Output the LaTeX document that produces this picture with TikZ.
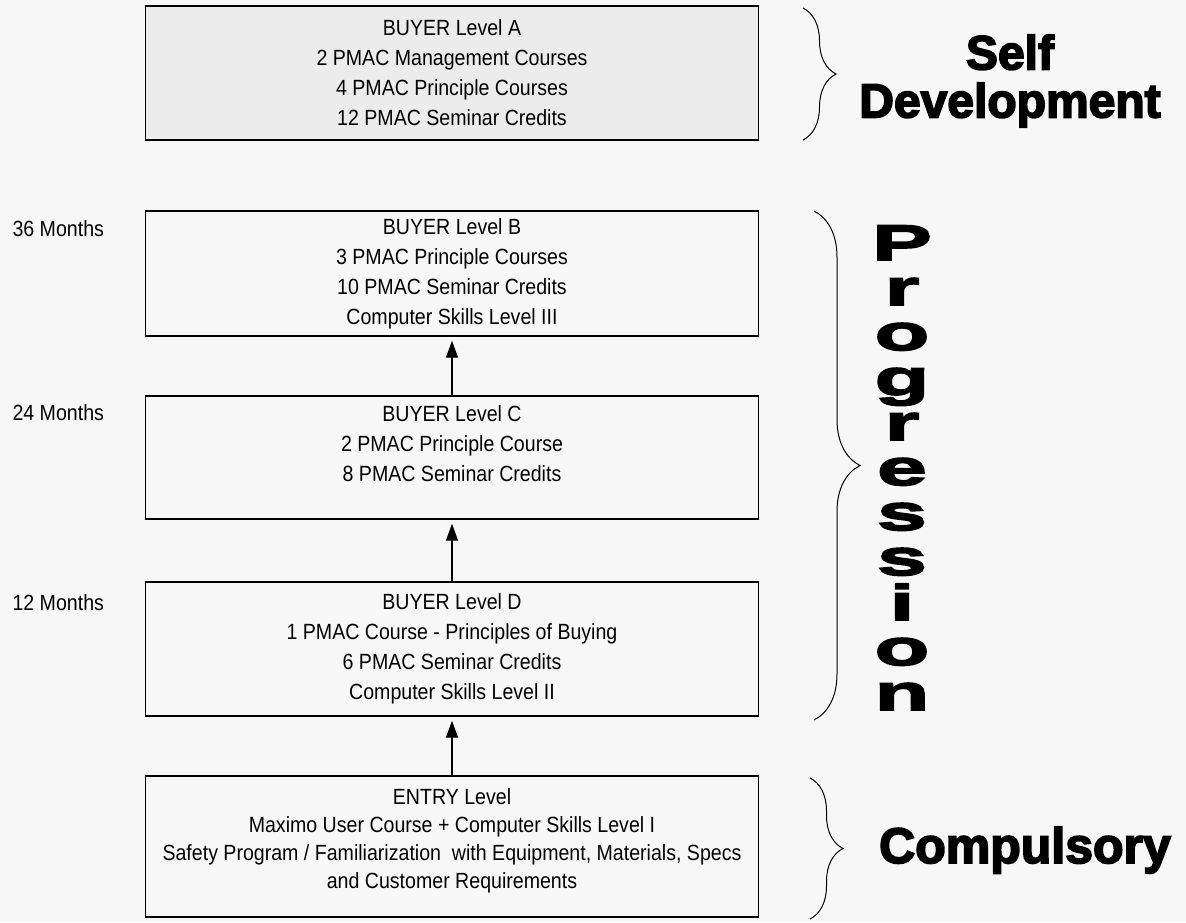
\documentclass[tikz,border=0pt]{standalone}
\usepackage{fontspec}
\setmainfont{Liberation Sans}
\newfontfamily\boxfont{Liberation Sans}[FakeStretch=0.89]
\newfontfamily\heavyfont{Liberation Sans Bold}[FakeBold=3.5]
\newfontfamily\progfont{Liberation Sans Bold}[FakeStretch=1.8, FakeBold=3.5]
\usetikzlibrary{positioning, arrows.meta, decorations.pathreplacing}
\definecolor{scan_bg}{RGB}{247,247,247}
\definecolor{stipple_gray}{RGB}{236,236,236}

\begin{document}
\begin{tikzpicture}[x=1pt, y=-1pt,
    levelbox/.style={draw, line width=1.4pt, minimum width=613pt, inner sep=0pt,
      align=center, font=\boxfont\fontsize{22}{30}\selectfont},
    monthlabel/.style={anchor=base west, font=\boxfont\fontsize{22}{26}\selectfont},
    uparrow/.style={line width=1.3pt, -{Triangle[length=17pt, width=12pt]}, shorten >=4pt},
    groupbrace/.style={line width=1pt, decorate, decoration={brace, amplitude=#1}},
    grouplabel/.style={font=\heavyfont\fontsize{48}{48}\selectfont, align=center},
    progletter/.style={anchor=base, inner sep=0pt, font=\progfont\fontsize{50}{50}\selectfont}]

      % 0. Fondo escaneado
      \fill[scan_bg] (0,0) rectangle (1186,922);
      \useasboundingbox (0,0) rectangle (1186,922);

      % 1. CAJAS DE NIVEL (de arriba abajo)
      \node[levelbox, fill=stipple_gray, minimum height=134pt] (lvlA) at (452,73) {
        BUYER Level A\\ 2 PMAC Management Courses\\ 4 PMAC Principle Courses\\ 12 PMAC Seminar Credits};

      \node[levelbox, minimum height=125pt] (lvlB) at (452,273.5) {
        BUYER Level B\\ 3 PMAC Principle Courses\\ 10 PMAC Seminar Credits\\ Computer Skills Level III};

      \node[levelbox, minimum height=123pt] (lvlC) at (452,457.5) {
        BUYER Level C\\ 2 PMAC Principle Course\\ 8 PMAC Seminar Credits\\[-2pt]};

      \node[levelbox, minimum height=134pt] (lvlD) at (452,649) {
        BUYER Level D\\ 1 PMAC Course - Principles of Buying\\ 6 PMAC Seminar Credits\\ Computer Skills Level II};

      \node[levelbox, minimum height=141pt, font=\boxfont\fontsize{22}{28}\selectfont] (entry) at (452,846.5) {
        ENTRY Level\\ Maximo User Course + Computer Skills Level I\\
        Safety Program / Familiarization\ \ with Equipment, Materials, Specs\\ and Customer Requirements\\[-12pt]};

      % 2. Flechas de progresion
      \draw[uparrow] (entry.north) -- (lvlD.south);
      \draw[uparrow] (lvlD.north) -- (lvlC.south);
      \draw[uparrow] (lvlC.north) -- (lvlB.south);

      % 3. Meses (izquierda)
      \node[monthlabel] (m36) at (9,236) {36 Months};
      \node[monthlabel] (m24) at (9,420) {24 Months};
      \node[monthlabel] (m12) at (9,610) {12 Months};

      % 4. LLAVES Y GRUPOS (derecha)
      \draw[groupbrace=33pt] (803,8) -- (803,140);
      \node[grouplabel] (selfdev) at (1010,81) {Self\\ Development};

      \draw[groupbrace=46pt] (814,211) -- (814,720);
      \foreach \ch [count=\i from 0] in {P,r,o,g,r,e,s,s,i,o,n}
        \node[progletter] (prog\i) at (902,260+45*\i) {\ch};

      \draw[groupbrace=33pt] (810,778) -- (810,919);
      \node[grouplabel, anchor=base, font=\heavyfont\fontsize{50}{50}\selectfont] (compulsory) at (1025,863) {Compulsory};

\end{tikzpicture}
\end{document}
